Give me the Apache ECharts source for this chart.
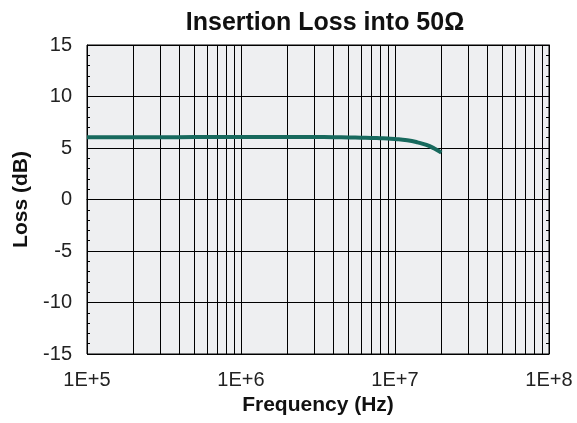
<!DOCTYPE html>
<html>
<head>
<meta charset="utf-8">
<script src="https://cdn.jsdelivr.net/npm/echarts@6/dist/echarts.min.js"></script>
<style>
  html, body { margin: 0; padding: 0; background: #fff; }
  #chart { width: 577px; height: 423px; }
</style>
</head>
<body>
<div id="chart"></div>
<script>
const freqHz = [1e5, 1.5e5, 2e5, 3e5, 5e5, 7e5, 1e6, 1.5e6, 2e6, 3e6, 4e6, 5e6, 6e6, 7e6, 8e6, 9e6, 1e7, 1.2e7, 1.4e7, 1.6e7, 1.8e7, 2e7]
const lossDb = [6.05, 6.05, 6.05, 6.05, 6.06, 6.06, 6.07, 6.07, 6.07, 6.06, 6.05, 6.03, 6.0, 5.98, 5.95, 5.92, 5.88, 5.75, 5.55, 5.3, 4.95, 4.55]

// vertical grid lines inside each decade (2..9)
const minorFreqs = [2e5, 3e5, 4e5, 5e5, 6e5, 7e5, 8e5, 9e5,
  2e6, 3e6, 4e6, 5e6, 6e6, 7e6, 8e6, 9e6,
  2e7, 3e7, 4e7, 5e7, 6e7, 7e7, 8e7, 9e7]

const yTicks = [-15, -10, -5, 0, 5, 10, 15]

const font = 'Liberation Sans, Arial, Helvetica, sans-serif'
const chart = echarts.init(document.getElementById('chart'))

const yAxisBase = {
  type: 'value',
  min: yTicks[0],
  max: yTicks[yTicks.length - 1],
  interval: 5,
  axisLine: { show: true, lineStyle: { color: '#000', width: 1 } },
  axisTick: { show: true, inside: true, length: 4, lineStyle: { color: '#000' } },
  minorTick: { show: true, splitNumber: 5, length: 3, lineStyle: { color: '#000' } },
  splitLine: { show: true, lineStyle: { color: '#000', width: 1 } }
}

chart.setOption({
  animation: false,
  title: {
    text: 'Insertion Loss into 50Ω',
    left: 320,
    top: 6,
    textAlign: 'center',
    textStyle: { fontFamily: font, fontSize: 25, fontWeight: 'bold', color: '#111' }
  },
  grid: {
    left: 87,
    right: 28,
    top: 45,
    bottom: 69,
    show: true,
    backgroundColor: '#eeeff1',
    borderColor: '#000',
    borderWidth: 1
  },
  xAxis: {
    type: 'log',
    logBase: 10,
    min: 1e5,
    max: 1e8,
    name: 'Frequency (Hz)',
    nameLocation: 'middle',
    nameGap: 36,
    nameTextStyle: { fontFamily: font, fontSize: 21, fontWeight: 'bold', color: '#111' },
    axisLine: { show: true, lineStyle: { color: '#000', width: 1 } },
    axisTick: { show: true, inside: false, length: 2, lineStyle: { color: '#000' } },
    axisLabel: {
      margin: 16,
      fontFamily: font,
      fontSize: 20,
      color: '#222',
      formatter: v => '1E+' + Math.round(Math.log10(v))
    },
    splitLine: { show: true, lineStyle: { color: '#000', width: 1 } }
  },
  yAxis: [
    Object.assign({}, yAxisBase, {
      position: 'left',
      name: 'Loss (dB)',
      nameLocation: 'middle',
      nameGap: 53,
      nameTextStyle: { fontFamily: font, fontSize: 21, fontWeight: 'bold', color: '#111' },
      axisLabel: { margin: 15, fontFamily: font, fontSize: 20, color: '#222' }
    }),
    Object.assign({}, yAxisBase, {
      position: 'right',
      axisLabel: { show: false },
      splitLine: { show: false }
    })
  ],
  series: [
    {
      type: 'line',
      data: freqHz.map((f, i) => [f, lossDb[i]]),
      showSymbol: false,
      smooth: true,
      lineStyle: { color: '#17695d', width: 4 },
      z: 5,
      markLine: {
        silent: true,
        symbol: 'none',
        label: { show: false },
        lineStyle: { color: '#000', width: 1, type: 'solid' },
        data: minorFreqs.map(f => ({ xAxis: f }))
      }
    }
  ]
})
</script>
</body>
</html>
